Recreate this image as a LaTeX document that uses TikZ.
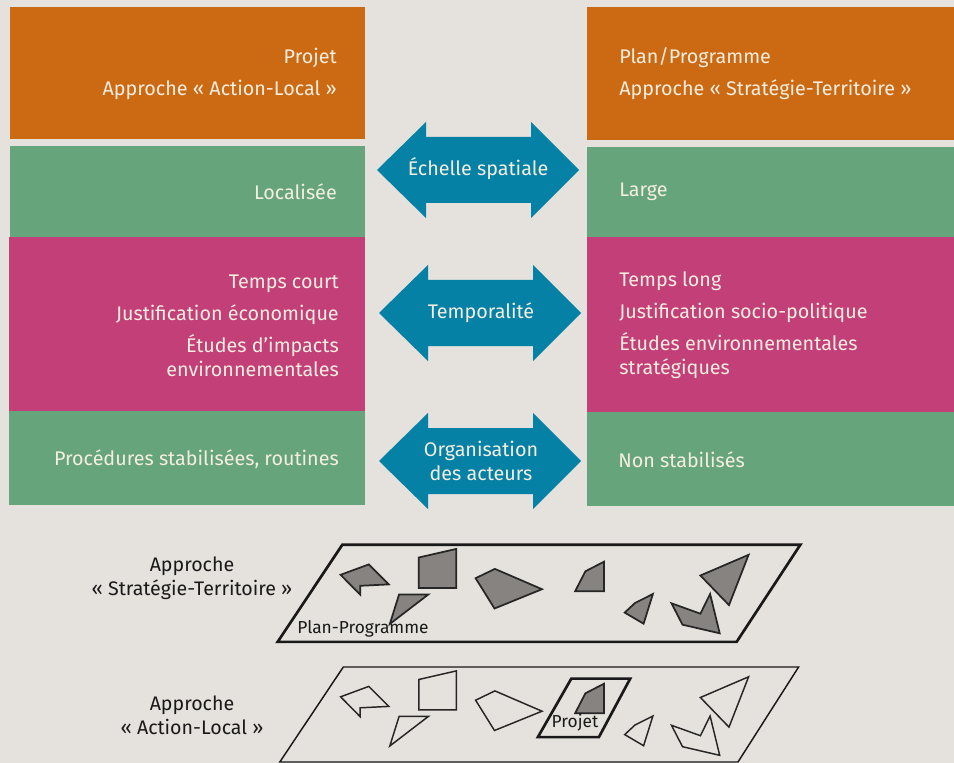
\documentclass[tikz,border=0pt]{standalone}
\usepackage{fontspec}
\setmainfont{Fira Sans}

\definecolor{paper}{RGB}{229,225,220}
\definecolor{ochre}{RGB}{204,106,20}
\definecolor{sage}{RGB}{102,165,123}
\definecolor{berry}{RGB}{194,63,120}
\definecolor{petrol}{RGB}{5,129,166}
\definecolor{cream}{RGB}{245,238,224}
\definecolor{stone}{RGB}{135,131,128}

\tikzset{
  boxtext/.style={text=cream, inner sep=0pt, font=\fontsize{14.8}{18}\selectfont},
  plaintext/.style={text=black!90, inner sep=0pt, font=\fontsize{14.7}{18}\selectfont},
  tagtext/.style={text=black!90, inner sep=0pt, font=\fontsize{13}{15}\selectfont},
  shardfill/.style={draw=black!85, fill=stone, line width=1.3pt, line join=miter},
  shardline/.style={draw=black!85, line width=1.1pt, line join=miter},
}

% double arrow: #1 left tip x, #2 centre y
\newcommand{\twoway}[2]{%
  \fill[petrol] (#1,#2) -- ++(49,-48) -- ++(0,15) -- ++(105,0) -- ++(0,-15) -- ++(48,48)
    -- ++(-48,48) -- ++(0,-15) -- ++(-105,0) -- ++(0,15) -- cycle;}

% the scattered shapes of a plane (shape E drawn apart)
\newcommand{\shards}[1]{%
  \draw[#1] (340.6,574.8) -- (368.8,564.4) -- (388.8,584.4) -- (360.2,585.8) -- (360.2,594.7) -- cycle;
  \draw[#1] (418.8,557.5) -- (456.3,548.9) -- (456.3,587.9) -- (418.8,587.9) -- cycle;
  \draw[#1] (399.1,594.4) -- (428.4,594.4) -- (389.8,624) -- cycle;
  \draw[#1] (475.6,578.2) -- (494.9,568.9) -- (542,589.2) -- (494.5,608.5) -- cycle;
  \draw[#1] (624.7,612.6) -- (635,603) -- (652.9,594) -- (643.6,623.7) -- cycle;
  \draw[#1] (700.4,575.5) -- (748.6,554.8) -- (729,605.1) -- cycle;
  \draw[#1] (671.5,603.3) -- (700.4,613.7) -- (710.1,594) -- (719.7,633.3) -- (682.5,624.7) -- cycle;}
\newcommand{\shardE}{%
  \draw[shardfill] (585.4,571.3) -- (604,561.7) -- (604,591.3) -- (575.1,591.3) -- cycle;}

\begin{document}
\begin{tikzpicture}[x=0.75pt,y=0.75pt,yscale=-1,xscale=1]
\useasboundingbox (0,0) rectangle (954,763);
\fill[paper] (0,0) rectangle (954,763);

%Shape: Rectangle columns
\fill[ochre] (10,7) rectangle (365,139);
\fill[sage] (10,146) rectangle (365,237);
\fill[berry] (9,237) rectangle (365,411);
\fill[sage] (9,411) rectangle (365,505);
\fill[ochre] (587,7) rectangle (954,140);
\fill[sage] (587,147) rectangle (954,237);
\fill[berry] (587,237) rectangle (954,412);
\fill[sage] (587,412) rectangle (954,506);

%Shape: Double arrows
\twoway{377}{170}
\twoway{379}{313}
\twoway{379}{461}

% Text Node
\node[boxtext, anchor=east, align=right] (projL) at (337,74) {Projet\\[6pt]Approche « Action-Local »};
\node[boxtext, anchor=west, align=left] (planR) at (619,74) {Plan/Programme\\[6pt]Approche « Stratégie-Territoire »};
\node[boxtext, anchor=east] (locL) at (337,192) {Localisée};
\node[boxtext, anchor=west] (largeR) at (619,192) {Large};
\node[boxtext, anchor=east, align=right] (tempsL) at (339,326) {Temps court\\[6pt]Justification économique\\[6pt]Études d’impacts\\environnementales};
\node[boxtext, anchor=west, align=left] (tempsR) at (619,325) {Temps long\\[6pt]Justification socio-politique\\[6pt]Études environnementales\\stratégiques};
\node[boxtext, anchor=east] (procL) at (339,459) {Procédures stabilisées, routines};
\node[boxtext, anchor=west] (procR) at (618,460) {Non stabilisés};

% Text Node
\node[boxtext] (echelle) at (478,169) {Échelle spatiale};
\node[boxtext] (tempo) at (481,313) {Temporalité};
\node[boxtext, align=center] (orga) at (481,461) {Organisation\\des acteurs};

%Shape: Parallelogram plan
\draw[line width=2pt, black!90] (342.3,544.8) -- (800.3,544.8) -- (736.6,641.9) -- (277.6,641.9) -- cycle;
\shards{shardfill}
\shardE
\node[tagtext] (planprog) at (363,629) {Plan-Programme};

%Shape: Parallelogram action
\draw[line width=1.1pt, black!90] (343.3,667) -- (798.6,667) -- (738,762) -- (279.8,762) -- cycle;
\begin{scope}[shift={(0,122)}]
\shards{shardline}
\shardE
\end{scope}
\draw[line width=2pt, black!90] (571.3,678.6) -- (630.2,678.6) -- (598.9,737.1) -- (537.9,737.1) -- cycle;
\node[tagtext] (projet) at (575,723) {Projet};

% Text Node
\node[plaintext, align=center] (stratlab) at (192,578) {Approche\\« Stratégie-Territoire »};
\node[plaintext, align=center] (actlab) at (192,715) {Approche\\« Action-Local »};

\end{tikzpicture}
\end{document}
